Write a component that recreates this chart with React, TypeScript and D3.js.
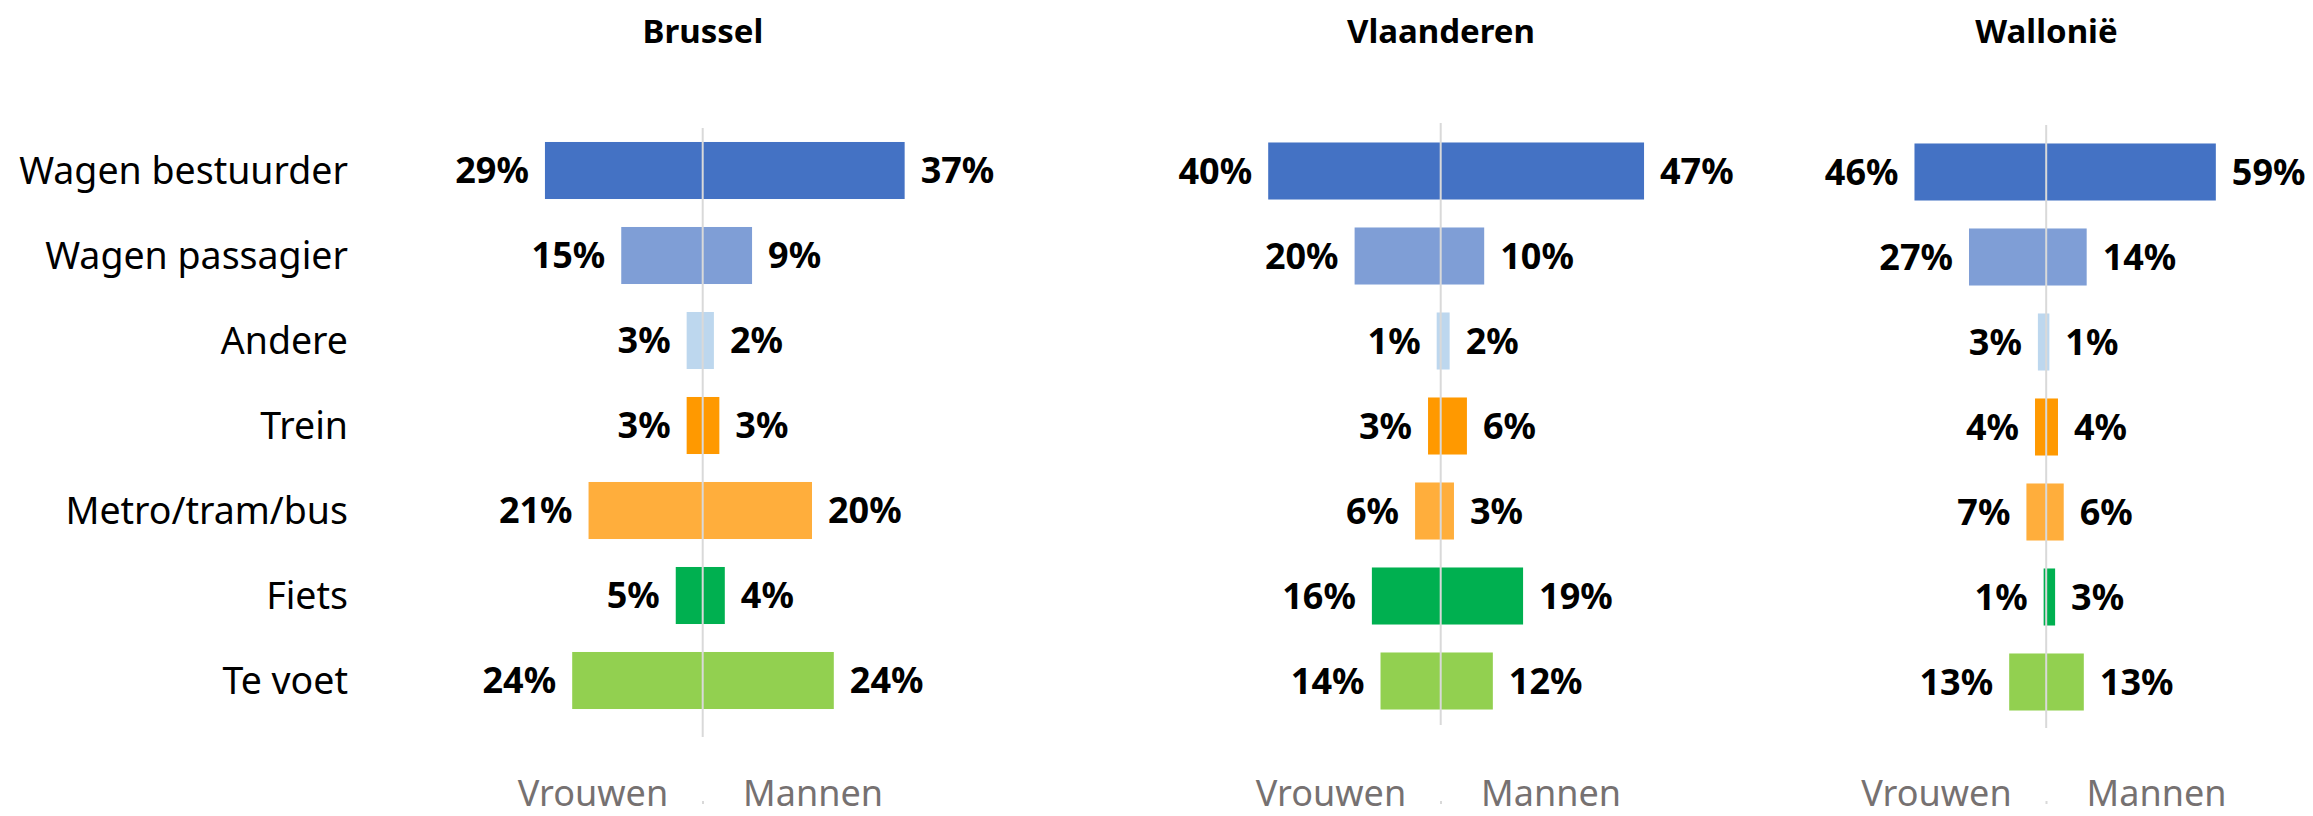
import React from "react";
import * as d3 from "d3";

const categories = [
  "Wagen bestuurder",
  "Wagen passagier",
  "Andere",
  "Trein",
  "Metro/tram/bus",
  "Fiets",
  "Te voet",
];

const regions = ["Brussel", "Vlaanderen", "Wallonië"];

const brusselVrouwen = [29, 15, 3, 3, 21, 5, 24];
const brusselMannen = [37, 9, 2, 3, 20, 4, 24];
const vlaanderenVrouwen = [40, 20, 1, 3, 6, 16, 14];
const vlaanderenMannen = [47, 10, 2, 6, 3, 19, 12];
const walloniëVrouwen = [46, 27, 3, 4, 7, 1, 13];
const walloniëMannen = [59, 14, 1, 4, 6, 3, 13];

const seriesLabels = ["Vrouwen", "Mannen"];

const colors = ["#4472C4", "#7F9ED6", "#BDD7EE", "#FF9900", "#FFAE3C", "#00B050", "#92D050"];

// layout per panel: zero position, pixels per percent, vertical tweaks
const layout = [
  { zero: 703, ppp: 5.45, yShift: 0, lineTop: 128, lineBottom: 737 },
  { zero: 1441, ppp: 4.32, yShift: 0.5, lineTop: 123, lineBottom: 725 },
  { zero: 2046.5, ppp: 2.87, yShift: 1.5, lineTop: 125, lineBottom: 728 },
];

const data = [
  [brusselVrouwen, brusselMannen],
  [vlaanderenVrouwen, vlaanderenMannen],
  [walloniëVrouwen, walloniëMannen],
];

const W = 2313;
const H = 816;
const FONT = "'Noto Sans', 'DejaVu Sans', sans-serif";

export default function App() {
  return (
    <svg
      width={W}
      height={H}
      style={{ position: "absolute", left: 0, top: 0, background: "#fff" }}
      fontFamily={FONT}
    >
      <rect width={W} height={H} fill="#fff" />
      {/* category labels */}
      {(() => {
        const y = d3
          .scaleBand<string>()
          .domain(categories)
          .range([128, 128 + 7 * 85])
          .paddingInner(0.329)
          .paddingOuter(0.1645);
        return categories.map((c) => (
          <text
            key={c}
            x={348}
            y={(y(c) as number) + y.bandwidth() / 2}
            dy="0.36em"
            textAnchor="end"
            fontSize={37.5}
            fill="#000"
          >
            {c}
          </text>
        ));
      })()}
      {regions.map((r, pi) => {
        const L = layout[pi];
        const D = 100;
        const x = d3
          .scaleLinear()
          .domain([-D, D])
          .range([L.zero - D * L.ppp, L.zero + D * L.ppp]);
        const y = d3
          .scaleBand<string>()
          .domain(categories)
          .range([128 + L.yShift, 128 + L.yShift + 7 * 85])
          .paddingInner(0.329)
          .paddingOuter(0.1645);
        const [vr, ma] = data[pi];
        return (
          <g key={r}>
            <text
              x={x(0)}
              y={43}
              textAnchor="middle"
              fontWeight="bold"
              fontSize={33}
              fill="#000"
            >
              {r}
            </text>
            {categories.map((c, i) => {
              const by = y(c) as number;
              const bh = y.bandwidth();
              return (
                <g key={c}>
                  <rect
                    x={x(-vr[i])}
                    y={by}
                    width={x(0) - x(-vr[i])}
                    height={bh}
                    fill={colors[i]}
                  />
                  <rect
                    x={x(0)}
                    y={by}
                    width={x(ma[i]) - x(0)}
                    height={bh}
                    fill={colors[i]}
                  />
                  <text
                    x={x(-vr[i]) - 16}
                    y={by + bh / 2}
                    dy="0.36em"
                    textAnchor="end"
                    fontWeight="bold"
                    fontSize={36}
                    fill="#000"
                  >
                    {vr[i]}%
                  </text>
                  <text
                    x={x(ma[i]) + 16}
                    y={by + bh / 2}
                    dy="0.36em"
                    textAnchor="start"
                    fontWeight="bold"
                    fontSize={36}
                    fill="#000"
                  >
                    {ma[i]}%
                  </text>
                </g>
              );
            })}
            <line
              x1={L.zero - 0.3}
              x2={L.zero - 0.3}
              y1={L.lineTop}
              y2={L.lineBottom}
              stroke="#D9D9D9"
              strokeWidth={2}
            />
            <rect x={L.zero - 1} y={801} width={2} height={3} fill="#D9D9D9" />
            <text
              x={L.zero - 110}
              y={806}
              textAnchor="middle"
              fontSize={36}
              fill="#767171"
            >
              {seriesLabels[0]}
            </text>
            <text
              x={L.zero + 110}
              y={806}
              textAnchor="middle"
              fontSize={36}
              fill="#767171"
            >
              {seriesLabels[1]}
            </text>
          </g>
        );
      })}
    </svg>
  );
}
